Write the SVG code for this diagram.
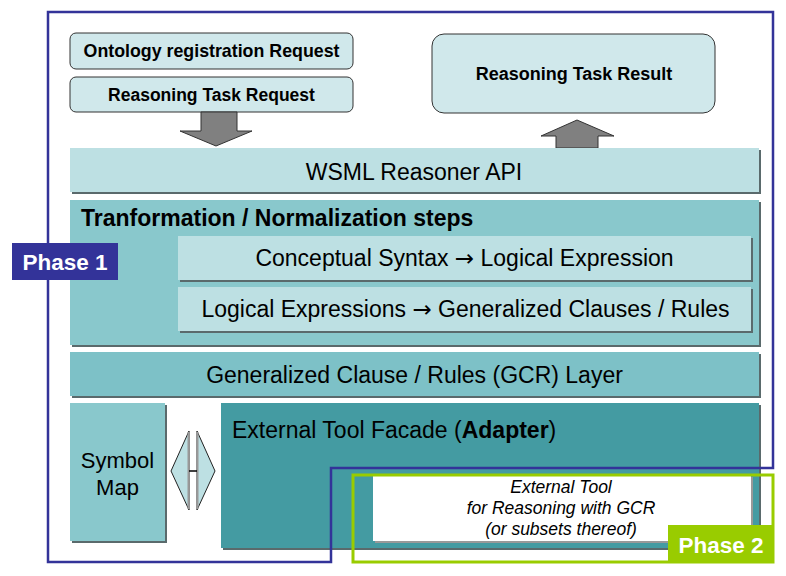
<svg xmlns="http://www.w3.org/2000/svg" width="786" height="576" viewBox="0 0 786 576">
<defs>
<style>
.t{font-family:"Liberation Sans",Arial,sans-serif;fill:#000}
.b{font-weight:bold}
.ar{font-family:"DejaVu Sans",sans-serif;font-weight:normal}
.req{fill:#D0E8EB;stroke:#333;stroke-width:1}
.sh{fill:#5a6a6c}
.arr{fill:#808080;stroke:#333;stroke-width:1}
.tri{fill:#BDE0E3;stroke:#222;stroke-width:1}
</style>
</defs>
<rect width="786" height="576" fill="#fff"/>

<g id="ontology-request">
<rect class="req" x="70" y="33" width="283" height="36" rx="6"/>
<text class="t b" x="211.5" y="57" font-size="17.8" text-anchor="middle">Ontology registration Request</text>
</g>
<g id="reasoning-request">
<rect class="req" x="70" y="77" width="283" height="35" rx="6"/>
<text class="t b" x="211.5" y="101" font-size="17.5" text-anchor="middle">Reasoning Task Request</text>
</g>
<g id="reasoning-result">
<rect class="req" x="432" y="34" width="283" height="79" rx="12"/>
<text class="t b" x="574" y="80" font-size="18" text-anchor="middle">Reasoning Task Result</text>
</g>

<g id="connectors">
<polygon class="arr" points="201,112 237,112 237,131 252,131 216,146 180,131 201,131"/>
<polygon class="arr" points="556,148 598,148 598,136 614,136 577,120 541,136 556,136"/>
</g>

<g id="wsml-api">
<rect class="sh" x="72" y="150" width="689" height="44"/>
<rect x="70" y="148" width="689" height="44" fill="#BDE0E3"/>
<text class="t" x="414" y="180" font-size="23" text-anchor="middle">WSML Reasoner API</text>
</g>

<g id="transformation">
<rect class="sh" x="72" y="202" width="689" height="145"/>
<rect x="70" y="200" width="689" height="145" fill="#89C8CC"/>
<text class="t b" x="81" y="226" font-size="23">Tranformation / Normalization steps</text>
</g>
<g id="conceptual-syntax">
<rect class="sh" x="180" y="238" width="573" height="44"/>
<rect x="178" y="236" width="573" height="44" fill="#BDE0E3"/>
<text class="t" x="464.5" y="266" font-size="23" text-anchor="middle">Conceptual Syntax <tspan class="ar">→</tspan> Logical Expression</text>
</g>
<g id="logical-expressions">
<rect class="sh" x="180" y="289" width="573" height="44"/>
<rect x="178" y="287" width="573" height="44" fill="#BDE0E3"/>
<text class="t" x="465.5" y="317" font-size="23" text-anchor="middle">Logical Expressions <tspan class="ar">→</tspan> Generalized Clauses / Rules</text>
</g>

<g id="gcr-layer">
<rect class="sh" x="72" y="354" width="689" height="44"/>
<rect x="70" y="352" width="689" height="44" fill="#7DC1C7"/>
<text class="t" x="414.5" y="383" font-size="23" text-anchor="middle">Generalized Clause / Rules (GCR) Layer</text>
</g>

<g id="symbol-map">
<rect class="sh" x="72" y="405" width="95" height="138"/>
<rect x="70" y="403" width="95" height="138" fill="#89C8CC"/>
<text class="t" x="117.5" y="468" font-size="22" text-anchor="middle">Symbol</text>
<text class="t" x="117.5" y="495" font-size="22" text-anchor="middle">Map</text>
</g>

<g id="double-arrow">
<polygon class="tri" points="171,471 189,431 189,510"/>
<polygon class="tri" points="215,471 197,431 197,510"/>
<line x1="188.5" y1="432" x2="188.5" y2="509" stroke="#999" stroke-width="2"/>
<line x1="197.5" y1="432" x2="197.5" y2="509" stroke="#999" stroke-width="2"/>
<line x1="189" y1="471" x2="197" y2="471" stroke="#000" stroke-width="1.5"/>
</g>

<g id="facade">
<rect class="sh" x="223" y="405" width="538" height="145"/>
<rect x="221" y="403" width="538" height="145" fill="#449BA2"/>
<text class="t" x="232" y="438" font-size="23">External Tool Facade (<tspan class="b">Adapter</tspan>)</text>
</g>

<g id="external-tool">
<rect x="375" y="477" width="378" height="66" fill="#999"/>
<rect x="373" y="475" width="378" height="66" fill="#fff"/>
<text class="t" x="561" y="493" font-size="17.5" font-style="italic" text-anchor="middle">External Tool</text>
<text class="t" x="561" y="514" font-size="17.5" font-style="italic" text-anchor="middle">for Reasoning with GCR</text>
<text class="t" x="561" y="535" font-size="17.5" font-style="italic" text-anchor="middle">(or subsets thereof)</text>
</g>

<g id="phase1">
<polygon points="48,12 773,12 773,468 331,468 331,562 48,562" fill="none" stroke="#333399" stroke-width="2.5"/>
<rect x="12" y="243" width="106" height="37" fill="#333399"/>
<text x="65" y="270" font-size="22.5" font-weight="bold" fill="#fff" text-anchor="middle" font-family="Liberation Sans,Arial,sans-serif">Phase 1</text>
</g>

<g id="phase2">
<rect x="353" y="475" width="420" height="87" fill="none" stroke="#99CC00" stroke-width="3"/>
<rect x="668" y="525" width="106" height="38" fill="#99CC00"/>
<text x="721" y="553" font-size="22.5" font-weight="bold" fill="#fff" text-anchor="middle" font-family="Liberation Sans,Arial,sans-serif">Phase 2</text>
</g>
</svg>
